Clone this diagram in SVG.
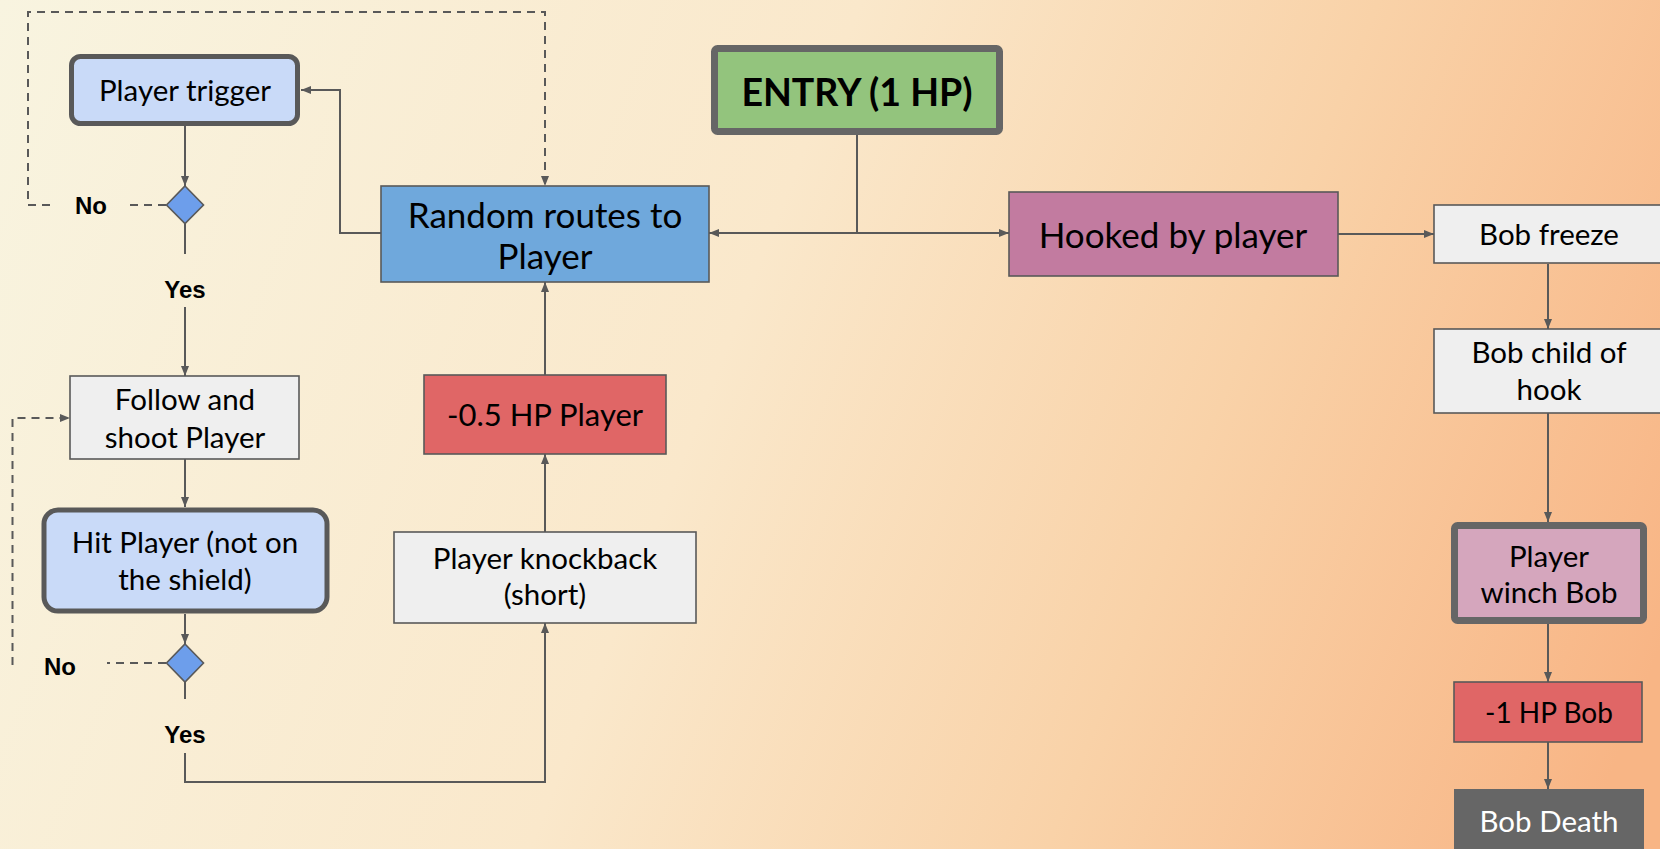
<svg xmlns="http://www.w3.org/2000/svg" width="1660" height="849" viewBox="0 0 1660 849">
  <defs>
    <linearGradient id="bg" x1="0" y1="0" x2="1660" y2="650" gradientUnits="userSpaceOnUse">
      <stop offset="0" stop-color="#f8f4e0"/>
      <stop offset="0.45" stop-color="#fae8cb"/>
      <stop offset="0.72" stop-color="#f9d2a8"/>
      <stop offset="1" stop-color="#f8b585"/>
    </linearGradient>
    <marker id="arrow" viewBox="0 0 10 10" refX="10" refY="5" markerWidth="10" markerHeight="10" markerUnits="userSpaceOnUse" orient="auto">
      <path d="M0,1 L10,5 L0,9 Z" fill="#595959"/>
    </marker>
    <style>
      .edge { fill: none; stroke: #595959; stroke-width: 2; }
      .dash { stroke-dasharray: 8 6; }
      .box { stroke: #595959; stroke-width: 1.6; }
      .thick { stroke: #595959; stroke-width: 5; }
      .heavy { stroke: #666666; stroke-width: 7; }
      .label { font-family: Lato, "Open Sans", sans-serif; fill: #000000; text-anchor: middle; }
      .s28 { font-size: 28px; }
      .s29 { font-size: 29.5px; }
      .s31 { font-size: 31px; }
      .s35 { font-size: 35px; }
      .big { font-size: 37.5px; font-weight: bold; }
      .branch { font-family: "Liberation Sans", Arial, sans-serif; font-weight: bold; font-size: 24px; text-anchor: middle; fill: #000000; }
      .light { fill: #efefef; }
    </style>
  </defs>

  <rect x="0" y="0" width="1660" height="849" fill="url(#bg)"/>

  <!-- connectors -->
  <g id="connectors">
    <path class="edge" d="M185,126 V186" marker-end="url(#arrow)"/>
    <path class="edge" d="M185,223 V254"/>
    <path class="edge" d="M185,307 V376" marker-end="url(#arrow)"/>
    <path class="edge dash" d="M166,205 H130"/>
    <path class="edge dash" d="M50,205 H28 V12 H545 V186" marker-end="url(#arrow)"/>
    <path class="edge" d="M381,233 H340 V90 H301" marker-end="url(#arrow)"/>
    <path class="edge" d="M185,459 V507" marker-end="url(#arrow)"/>
    <path class="edge" d="M185,614 V644" marker-end="url(#arrow)"/>
    <path class="edge" d="M185,682 V699"/>
    <path class="edge" d="M185,753 V782 H545 V623" marker-end="url(#arrow)"/>
    <path class="edge dash" d="M166,663 H107"/>
    <path class="edge dash" d="M12.5,665 V418 H70" marker-end="url(#arrow)"/>
    <path class="edge" d="M545,532 V454" marker-end="url(#arrow)"/>
    <path class="edge" d="M545,375 V282" marker-end="url(#arrow)"/>
    <path class="edge" d="M857,135 V233"/>
    <path class="edge" d="M857,233 H709" marker-end="url(#arrow)"/>
    <path class="edge" d="M857,233 H1009" marker-end="url(#arrow)"/>
    <path class="edge" d="M1338,234 H1434" marker-end="url(#arrow)"/>
    <path class="edge" d="M1548,264 V329" marker-end="url(#arrow)"/>
    <path class="edge" d="M1548,413 V522" marker-end="url(#arrow)"/>
    <path class="edge" d="M1548,624 V682" marker-end="url(#arrow)"/>
    <path class="edge" d="M1548,742 V789" marker-end="url(#arrow)"/>
  </g>

  <!-- left column -->
  <g id="player-trigger">
    <rect class="thick" x="71.5" y="56.5" width="226" height="67" rx="9" fill="#c9daf8"/>
    <text class="label s29" x="185" y="101">Player trigger</text>
  </g>
  <g id="decision-trigger">
    <polygon points="185,186 203.5,205 185,223.5 166.5,205" fill="#6d9eeb" stroke="#595959" stroke-width="1.6"/>
    <text class="branch" x="91" y="214">No</text>
    <text class="branch" x="185" y="298">Yes</text>
  </g>
  <g id="follow-shoot">
    <rect class="box light" x="70" y="376" width="229" height="83"/>
    <text class="label s29" x="185" y="410">Follow and</text>
    <text class="label s29" x="185" y="448">shoot Player</text>
  </g>
  <g id="hit-player">
    <rect class="thick" x="44" y="510" width="283" height="101" rx="14" fill="#c9daf8"/>
    <text class="label s29" x="185" y="553">Hit Player (not on</text>
    <text class="label s29" x="185" y="590">the shield)</text>
  </g>
  <g id="decision-hit">
    <polygon points="185,644 203.5,663 185,682 166.5,663" fill="#6d9eeb" stroke="#595959" stroke-width="1.6"/>
    <text class="branch" x="60" y="675">No</text>
    <text class="branch" x="185" y="743">Yes</text>
  </g>

  <!-- middle column -->
  <g id="random-routes">
    <rect class="box" x="381" y="186" width="328" height="96" fill="#6fa8dc"/>
    <text class="label s35" x="545" y="228">Random routes to</text>
    <text class="label s35" x="545" y="269">Player</text>
  </g>
  <g id="damage-player">
    <rect class="box" x="424" y="375" width="242" height="79" fill="#e06666"/>
    <text class="label s31" x="545" y="426">-0.5 HP Player</text>
  </g>
  <g id="knockback">
    <rect class="box light" x="394" y="532" width="302" height="91"/>
    <text class="label s29" x="545" y="569">Player knockback</text>
    <text class="label s29" x="545" y="605">(short)</text>
  </g>

  <!-- entry and hook branch -->
  <g id="entry">
    <rect class="heavy" x="714.5" y="48.5" width="285" height="83" rx="3" fill="#93c47d"/>
    <text class="label big" x="857" y="106">ENTRY (1 HP)</text>
  </g>
  <g id="hooked">
    <rect class="box" x="1009" y="192" width="329" height="84" fill="#c27ba0"/>
    <text class="label s35" x="1173" y="248">Hooked by player</text>
  </g>

  <!-- right column -->
  <g id="bob-freeze">
    <rect class="box light" x="1434" y="205" width="240" height="58"/>
    <text class="label s29" x="1549" y="245">Bob freeze</text>
  </g>
  <g id="bob-child">
    <rect class="box light" x="1434" y="329" width="240" height="84"/>
    <text class="label s29" x="1549" y="363">Bob child of</text>
    <text class="label s29" x="1549" y="400">hook</text>
  </g>
  <g id="winch">
    <rect class="heavy" x="1454.5" y="525.5" width="189" height="95" rx="3" fill="#d5a6bd"/>
    <text class="label s29" x="1549" y="567">Player</text>
    <text class="label s29" x="1549" y="603">winch Bob</text>
  </g>
  <g id="damage-bob">
    <rect class="box" x="1454" y="682" width="188" height="60" fill="#e06666"/>
    <text class="label s28" x="1549" y="723">-1 HP Bob</text>
  </g>
  <g id="bob-death">
    <rect x="1454" y="789" width="190" height="70" fill="#666666"/>
    <text class="label s29" x="1549" y="832" style="fill:#ffffff">Bob Death</text>
  </g>
</svg>
